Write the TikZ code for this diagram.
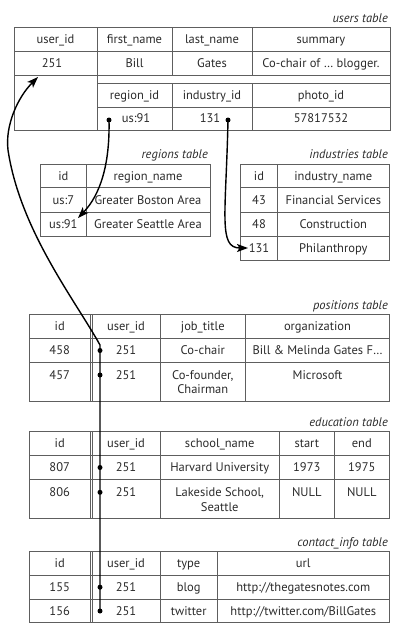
\documentclass[tikz,border=0pt]{standalone}
\usepackage{fontspec}
\usetikzlibrary{arrows.meta}
\newfontfamily\ptsans{PT Sans}
\definecolor{txt}{HTML}{2B2B2B}
\definecolor{rulecol}{HTML}{5E5E5E}
\newcommand\cf{\ptsans\fontsize{12.5}{14.7}\selectfont}
\newcommand\T[4]{\node[cellt] (#1) at (#2,#3) {#4};}
\begin{document}
\begin{tikzpicture}[x=1pt,y=-1pt,
  tabgrid/.style={draw=rulecol, line width=0.8pt},
  cellt/.style={font=\cf, text=txt, inner sep=0pt, anchor=base, yshift=-4.2pt, align=center},
  tablecap/.style={font=\cf\itshape, text=txt, inner sep=0pt, anchor=base east},
  fklink/.style={draw=black, line width=1.4pt},
  fktip/.style={-{Stealth[length=11pt,width=8pt,inset=2.5pt]}},
  fkdot/.style={circle, fill=black, inner sep=0pt, minimum size=5pt}]
\useasboundingbox (0,0) rectangle (404,630);

% users table
\draw[tabgrid] (14,27) rectangle (390,130);
\draw[tabgrid] (14,51.5) -- (390,51.5) (14,75) -- (390,75) (97,83) -- (390,83) (97,107) -- (390,107)
  (97,27) -- (97,130) (172,27) -- (172,75) (172,83) -- (172,130) (252,27) -- (252,75) (252,83) -- (252,130);
\node[tablecap] (usersL) at (388,22) {users table};
\T{u1}{55.5}{39.3}{user\_id}
\T{u2}{134.5}{39.3}{first\_name}
\T{u3}{212}{39.3}{last\_name}
\T{u4}{321}{39.3}{summary}
\T{u5}{52}{63.3}{251}
\T{u6}{134.5}{63.3}{Bill}
\T{u7}{212}{63.3}{Gates}
\T{u8}{321}{63.3}{Co-chair of … blogger.}
\T{u9}{134.5}{95}{region\_id}
\T{u10}{212}{95}{industry\_id}
\T{u11}{321}{95}{photo\_id}
\T{u12}{136}{118.5}{us:91}
\T{u13}{210}{118.5}{131}
\T{u14}{321}{118.5}{57817532}
\node[fkdot] (dreg) at (109,120) {};
\node[fkdot] (dind) at (228,120) {};

% regions table
\draw[tabgrid] (40.7,164) rectangle (210,236);
\draw[tabgrid] (40.7,187.5) -- (210,187.5) (40.7,212.5) -- (210,212.5) (86,164) -- (86,236);
\node[tablecap] (regL) at (208,158.5) {regions table};
\T{r1}{63.3}{176}{id}
\T{r2}{148}{176}{region\_name}
\T{r3}{63.3}{200}{us:7}
\T{r4}{148}{200}{Greater Boston Area}
\T{r5}{63.3}{224}{us:91}
\T{r6}{148}{224}{Greater Seattle Area}

% industries table
\draw[tabgrid] (240.7,164) rectangle (389.3,260.7);
\draw[tabgrid] (240.7,187.5) -- (389.3,187.5) (240.7,212) -- (389.3,212) (240.7,236.3) -- (389.3,236.3) (277.3,164) -- (277.3,260.7);
\node[tablecap] (indL) at (388,158.5) {industries table};
\T{i1}{259}{176}{id}
\T{i2}{333.3}{176}{industry\_name}
\T{i3}{259}{200}{43}
\T{i4}{333.3}{200}{Financial Services}
\T{i5}{259}{224}{48}
\T{i6}{333.3}{224}{Construction}
\T{i7}{259}{248.5}{131}
\T{i8}{333.3}{248.5}{Philanthropy}

% positions table
\draw[tabgrid] (29.3,314) rectangle (389.3,401);
\draw[tabgrid] (29.3,338.3) -- (389.3,338.3) (29.3,362.7) -- (389.3,362.7)
  (90,314) -- (90,401) (92,314) -- (92,401) (160,314) -- (160,401) (245.7,314) -- (245.7,401);
\node[tablecap] (posL) at (388,309.3) {positions table};
\T{p1}{59.7}{326.2}{id}
\T{p2}{126}{326.2}{user\_id}
\T{p3}{202.8}{326.2}{job\_title}
\T{p4}{317.5}{326.2}{organization}
\T{p5}{59.7}{350.5}{458}
\T{p6}{126}{350.5}{251}
\T{p7}{202.8}{350.5}{Co-chair}
\T{p8}{317.5}{350.5}{Bill \& Melinda Gates F…}
\T{p9}{59.7}{375}{457}
\T{p10}{126}{375}{251}
\T{p11}{202.8}{389.7}{Co-founder,\\Chairman}
\T{p12}{317.5}{375}{Microsoft}

% education table
\draw[tabgrid] (29.3,431.7) rectangle (389.3,518.3);
\draw[tabgrid] (29.3,455.7) -- (389.3,455.7) (29.3,479.3) -- (389.3,479.3)
  (90,431.7) -- (90,518.3) (92,431.7) -- (92,518.3) (160,431.7) -- (160,518.3) (279.3,431.7) -- (279.3,518.3) (334.3,431.7) -- (334.3,518.3);
\node[tablecap] (eduL) at (388,426) {education table};
\T{e1}{59.7}{443.7}{id}
\T{e2}{126}{443.7}{user\_id}
\T{e3}{219.7}{443.7}{school\_name}
\T{e4}{306.8}{443.7}{start}
\T{e5}{361.8}{443.7}{end}
\T{e6}{59.7}{467.5}{807}
\T{e7}{126}{467.5}{251}
\T{e8}{219.7}{467.5}{Harvard University}
\T{e9}{306.8}{467.5}{1973}
\T{e10}{361.8}{467.5}{1975}
\T{e11}{59.7}{492.3}{806}
\T{e12}{126}{492.3}{251}
\T{e13}{219.7}{507}{Lakeside School,\\Seattle}
\T{e14}{306.8}{492.3}{NULL}
\T{e15}{361.8}{492.3}{NULL}

% contact_info table
\draw[tabgrid] (29.3,551.7) rectangle (389.3,622.7);
\draw[tabgrid] (29.3,575) -- (389.3,575) (29.3,599.3) -- (389.3,599.3)
  (90,551.7) -- (90,622.7) (92,551.7) -- (92,622.7) (160,551.7) -- (160,622.7) (217.3,551.7) -- (217.3,622.7);
\node[tablecap] (conL) at (388,546) {contact\_info table};
\T{c1}{59.7}{563.4}{id}
\T{c2}{126}{563.4}{user\_id}
\T{c3}{188.7}{563.4}{type}
\T{c4}{303.3}{563.4}{url}
\T{c5}{59.7}{587.2}{155}
\T{c6}{126}{587.2}{251}
\T{c7}{188.7}{587.2}{blog}
\T{c8}{303.3}{587.2}{http://thegatesnotes.com}
\T{c9}{59.7}{611}{156}
\T{c10}{126}{611}{251}
\T{c11}{188.7}{611}{twitter}
\T{c12}{303.3}{611}{http://twitter.com/BillGates}

% foreign key dots
\node[fkdot] (dp1) at (100,350.5) {};
\node[fkdot] (dp2) at (100,375) {};
\node[fkdot] (de1) at (100,467.5) {};
\node[fkdot] (de2) at (100,492.3) {};
\node[fkdot] (dc1) at (100,587.2) {};
\node[fkdot] (dc2) at (100,611) {};

% arrow targets
\coordinate (utip) at (38,77);
\coordinate (rtip) at (78,218);
\coordinate (itip) at (248,248);

% links
\draw[fklink,fktip] (dc2.center) -- (100,345) .. controls (75,300) and (20,230) .. (8,150) .. controls (5,125) and (18,97) .. (utip);
\draw[fklink,fktip] (dreg.center) .. controls (110,165) and (100,195) .. (rtip);
\draw[fklink,fktip] (dind.center) .. controls (226,215) and (218,248) .. (itip);
\end{tikzpicture}
\end{document}
